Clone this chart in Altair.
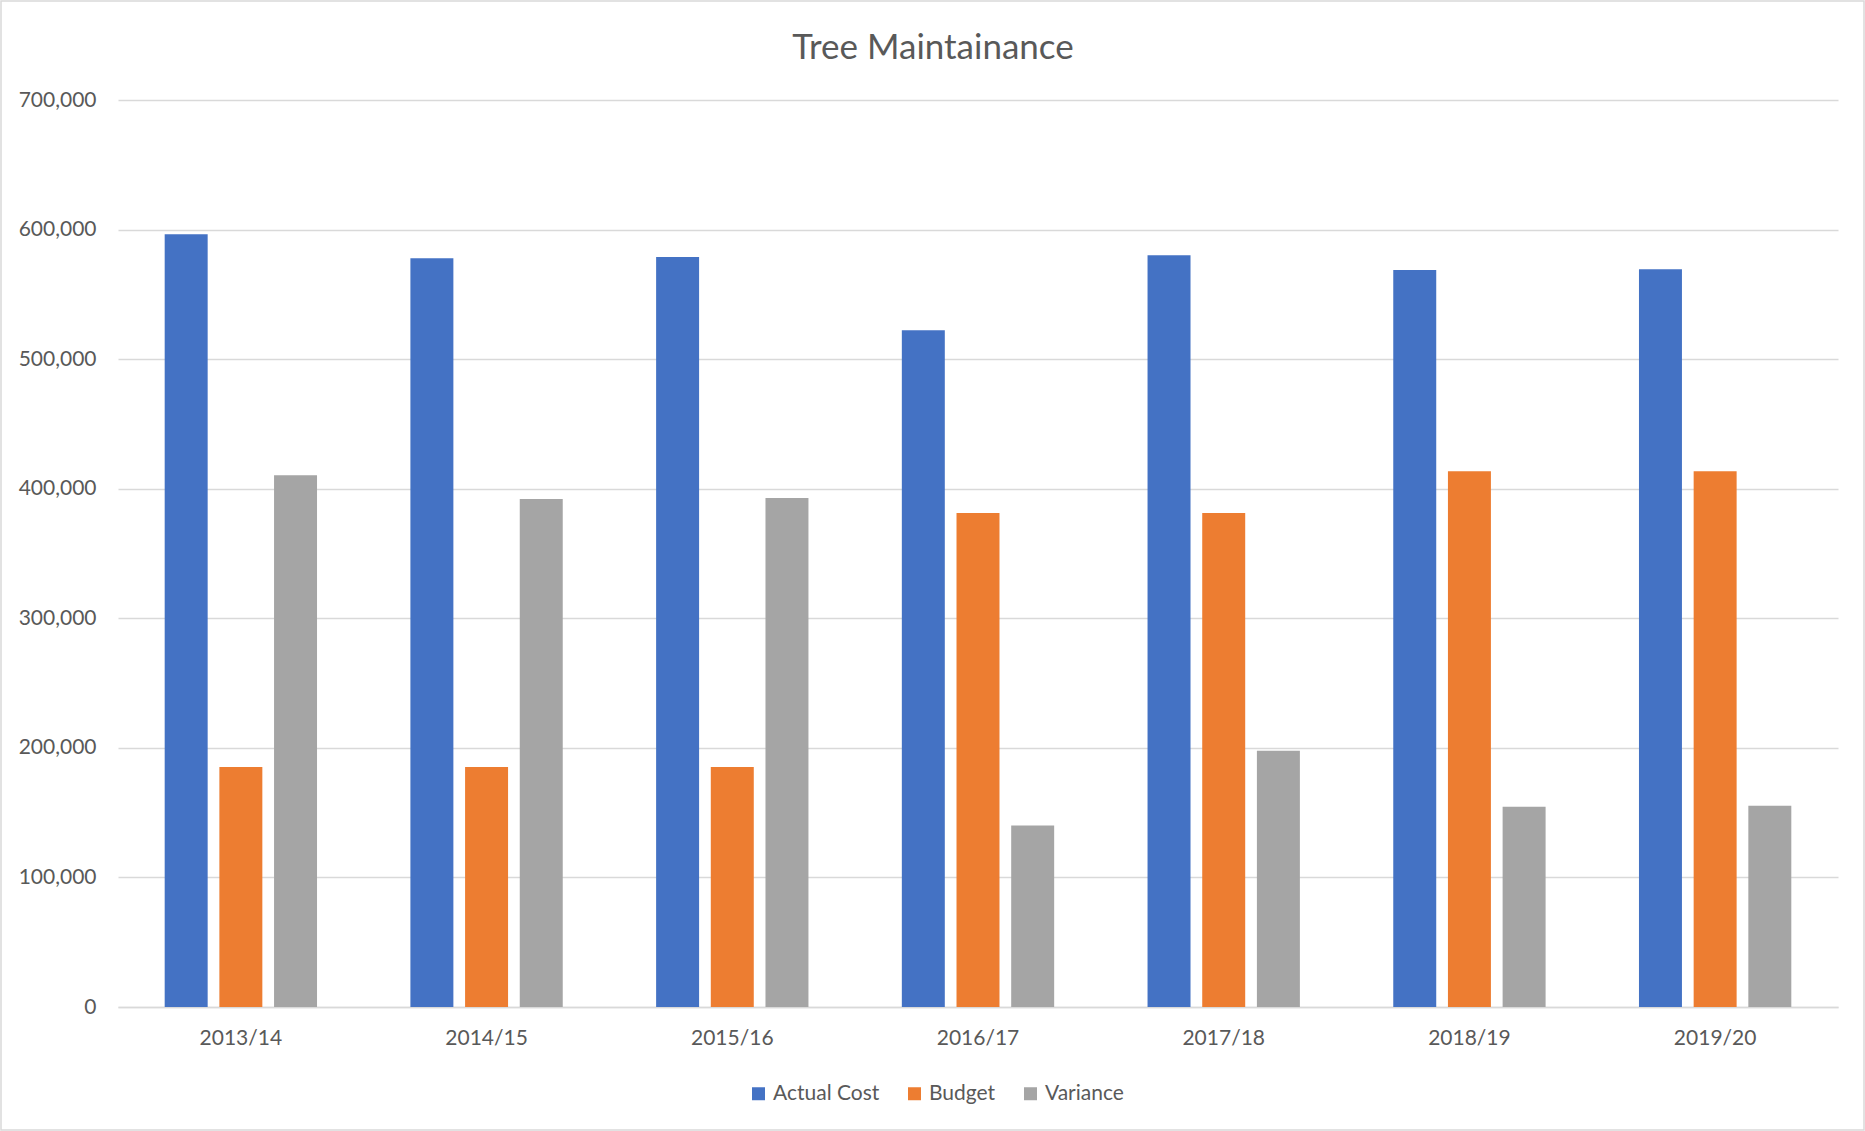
import altair as alt
import pandas as pd

# Tree maintenance spending per financial year
years = ["2013/14", "2014/15", "2015/16", "2016/17", "2017/18", "2018/19", "2019/20"]
actual_cost = [596400, 577800, 578800, 522300, 580100, 568800, 569300]
budget = [185200, 185200, 185200, 381300, 381300, 413400, 413400]
variance = [410400, 392100, 392800, 140000, 197800, 154600, 155400]

series = ["Actual Cost", "Budget", "Variance"]
series_colors = ["#4472C4", "#ED7D31", "#A5A5A5"]
y_ticks = [0, 100000, 200000, 300000, 400000, 500000, 600000, 700000]

text_color = "#595959"
grid_color = "#D9D9D9"
font = "Lato"

rows = []
for i, year in enumerate(years):
    for name, values in zip(series, [actual_cost, budget, variance]):
        rows.append({"year": year, "series": name, "value": values[i]})
df = pd.DataFrame(rows)

plot_w, plot_h = 1720, 907
pad = {"left": 118, "top": 100, "right": 27, "bottom": 124}

bars = alt.Chart(df).mark_bar().encode(
    x=alt.X(
        "year:N",
        sort=years,
        title=None,
        scale=alt.Scale(paddingInner=0.38, paddingOuter=0.19),
        axis=alt.Axis(
            labelAngle=0,
            ticks=False,
            domain=True,
            domainColor=grid_color,
            domainWidth=1.5,
            grid=False,
            labelPadding=20,
            labelFontSize=21,
            labelColor=text_color,
            labelFont=font,
        ),
    ),
    xOffset=alt.XOffset(
        "series:N",
        sort=series,
        scale=alt.Scale(paddingInner=0.214, paddingOuter=0),
    ),
    y=alt.Y(
        "value:Q",
        title=None,
        scale=alt.Scale(domain=[0, 700000], nice=False),
        axis=alt.Axis(
            values=y_ticks,
            format=",.0f",
            domain=False,
            ticks=False,
            grid=True,
            gridColor=grid_color,
            gridWidth=1.5,
            labelPadding=22,
            labelFontSize=21,
            labelColor=text_color,
            labelFont=font,
        ),
    ),
    color=alt.Color(
        "series:N",
        sort=series,
        scale=alt.Scale(domain=series, range=series_colors),
        legend=alt.Legend(
            title=None,
            orient="none",
            direction="horizontal",
            legendX=630,
            legendY=983,
            symbolType="square",
            symbolSize=169,
            symbolStrokeWidth=0,
            labelFontSize=21,
            labelColor=text_color,
            labelFont=font,
            labelOffset=4,
            columnPadding=24,
        ),
    ),
)

# Light frame around the whole chart
frame = alt.Chart(alt.Data(values=[{}])).mark_rect(
    fill="transparent", stroke=grid_color, strokeWidth=1.5
).encode(
    x=alt.value(-pad["left"] + 1),
    x2=alt.value(plot_w + pad["right"] - 1),
    y=alt.value(-pad["top"] + 1),
    y2=alt.value(plot_h + pad["bottom"] - 1),
)

chart = alt.layer(bars, frame).properties(
    width=plot_w,
    height=plot_h,
    padding=pad,
    autosize=alt.AutoSizeParams(type="none"),
    background="white",
    title=alt.TitleParams(
        "Tree Maintainance",
        font=font,
        fontSize=35,
        fontWeight="normal",
        color=text_color,
        anchor="middle",
        frame="group",
        baseline="alphabetic",
        dx=-45,
        dy=36,
        offset=-58,
    ),
).configure_view(stroke=None)

chart.save("out.html", embed_options={"renderer": "svg", "actions": False})
